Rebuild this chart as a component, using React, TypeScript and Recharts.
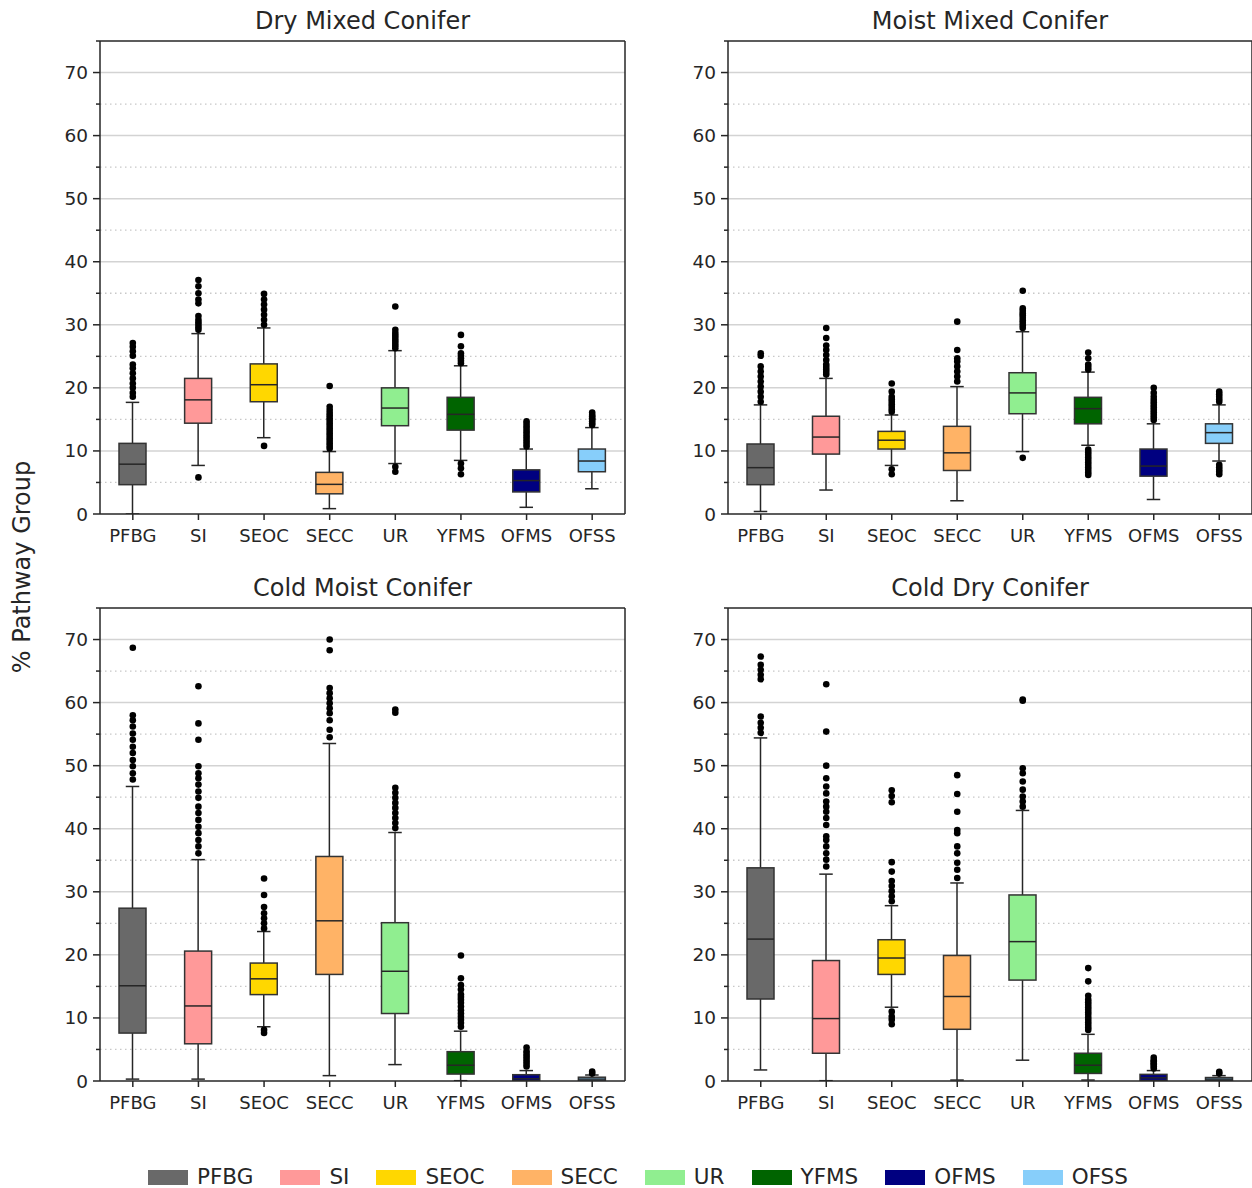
import { ComposedChart, Bar, Scatter, XAxis, YAxis, CartesianGrid } from "recharts";

const CATS = ["PFBG", "SI", "SEOC", "SECC", "UR", "YFMS", "OFMS", "OFSS"];
const COLORS = ["#696969", "#ff9999", "#ffd700", "#ffb366", "#90ee90", "#006400", "#000080", "#87cefa"];

const Y_TICKS = [0, 5, 10, 15, 20, 25, 30, 35, 40, 45, 50, 55, 60, 65, 70, 75];
const MAJOR_GRID = [10, 20, 30, 40, 50, 60, 70];
const MINOR_GRID = [5, 15, 25, 35, 45, 55, 65];

// Dry Mixed Conifer
const dryLow = [0, 7.7, 12.1, 0.85, 8.0, 8.5, 1.06, 4.0];
const dryQ1 = [4.65, 14.4, 17.8, 3.2, 14.0, 13.3, 3.5, 6.7];
const dryMed = [7.9, 18.1, 20.5, 4.7, 16.8, 15.8, 5.3, 8.4];
const dryQ3 = [11.2, 21.5, 23.8, 6.6, 20.0, 18.5, 7.0, 10.3];
const dryHigh = [17.7, 28.6, 29.5, 9.9, 25.9, 23.5, 10.3, 13.7];
const dryOut = [
  [18.6, 19.2, 20, 20.7, 21.5, 22.3, 23.1, 23.7, 25.1, 25.8, 26.5, 27.1],
  [5.8, 29.2, 29.6, 30, 30.4, 30.8, 31.4, 33.4, 34, 35, 36.1, 37.1],
  [10.8, 30, 30.8, 31.6, 32.4, 33.2, 34, 34.9],
  [10.4, 10.8, 11.2, 11.6, 12, 12.4, 12.8, 13.2, 13.6, 14, 14.4, 14.8, 15.2, 15.6, 16, 16.5, 17, 20.3],
  [6.7, 7.5, 26.3, 26.7, 27.1, 27.5, 27.9, 28.3, 28.7, 29.2, 32.9],
  [6.3, 7.25, 8.0, 23.9, 24.3, 24.7, 25.1, 25.5, 26.6, 28.4],
  [10.7, 11.1, 11.5, 11.9, 12.3, 12.7, 13.1, 13.5, 13.9, 14.3, 14.7],
  [14.1, 14.4, 14.7, 15.0, 15.2, 15.5, 15.7, 16.1],
];

// Moist Mixed Conifer
const moistLow = [0.4, 3.8, 7.7, 2.1, 9.9, 10.9, 2.3, 8.4];
const moistQ1 = [4.65, 9.5, 10.3, 6.9, 15.9, 14.3, 6.0, 11.2];
const moistMed = [7.35, 12.2, 11.7, 9.7, 19.2, 16.7, 7.6, 12.9];
const moistQ3 = [11.1, 15.5, 13.1, 13.9, 22.4, 18.5, 10.3, 14.3];
const moistHigh = [17.3, 21.5, 15.7, 20.2, 28.9, 22.5, 14.3, 17.3];
const moistOut = [
  [17.8, 18.6, 19.4, 20.2, 21, 21.8, 22.6, 23.4, 25.1, 25.5],
  [22.1, 22.5, 22.9, 23.3, 23.7, 24.4, 25.2, 26, 26.7, 27.9, 29.5],
  [6.3, 7.1, 16.2, 16.6, 17, 17.4, 17.8, 18.2, 18.6, 19.4, 20.7],
  [21, 21.8, 22.6, 23.4, 24.2, 24.7, 26, 30.5],
  [8.9, 29.5, 29.9, 30.3, 30.7, 31.1, 31.5, 31.8, 32.2, 32.6, 35.4],
  [6.2, 6.6, 7.0, 7.4, 7.8, 8.2, 8.6, 9.0, 9.4, 9.8, 10.2, 22.9, 23.3, 23.7, 24.7, 25.6],
  [14.9, 15.3, 15.7, 16.1, 16.5, 16.9, 17.3, 17.7, 18.1, 18.6, 19.2, 20.0],
  [6.3, 6.7, 7.0, 7.4, 7.8, 17.8, 18.2, 18.6, 19.0, 19.4],
];

// Cold Moist Conifer
const cmLow = [0.3, 0.3, 8.6, 0.85, 2.6, 0.05, 0, 0];
const cmQ1 = [7.6, 5.9, 13.7, 16.9, 10.7, 1.1, 0.05, 0.02];
const cmMed = [15.1, 11.9, 16.2, 25.4, 17.4, 2.5, 0.35, 0.3];
const cmQ3 = [27.4, 20.6, 18.7, 35.6, 25.1, 4.65, 1.0, 0.6];
const cmHigh = [46.7, 35.1, 23.7, 53.5, 39.4, 7.9, 1.65, 0.95];
const cmOut = [
  [47.8, 48.8, 49.9, 50.9, 52, 53, 54.1, 55.1, 56.2, 57.2, 58, 68.7],
  [36.1, 37.2, 38.2, 39.3, 40.3, 41.4, 42.5, 43.5, 44.9, 45.9, 47, 48, 48.8, 49.9, 54.1, 56.7, 62.6],
  [7.6, 8.1, 24.2, 25, 25.8, 26.6, 27.6, 29.5, 32.1],
  [54.5, 55.7, 57.2, 58.3, 59.1, 59.9, 60.7, 61.5, 62.3, 68.3, 70],
  [40.1, 40.9, 41.7, 42.5, 43.3, 44.1, 44.9, 45.7, 46.5, 58.4, 58.9],
  [8.6, 9.2, 9.7, 10.2, 10.7, 11.2, 11.8, 12.4, 12.9, 13.3, 13.7, 14.5, 15.2, 16.3, 19.9],
  [2.3, 2.7, 3.1, 3.5, 3.9, 4.3, 4.7, 5.3],
  [1.2, 1.5],
];

// Cold Dry Conifer
const cdLow = [1.75, 0.05, 11.7, 0.15, 3.3, 0.15, 0.05, 0.05];
const cdQ1 = [13.0, 4.4, 16.9, 8.2, 16.0, 1.2, 0.08, 0.08];
const cdMed = [22.5, 9.9, 19.5, 13.4, 22.1, 2.5, 0.5, 0.3];
const cdQ3 = [33.8, 19.1, 22.4, 19.9, 29.5, 4.4, 1.05, 0.55];
const cdHigh = [54.4, 32.8, 27.8, 31.4, 42.9, 7.4, 1.65, 0.85];
const cdOut = [
  [55.2, 56, 56.8, 57.8, 63.7, 64.4, 65.2, 66, 67.3],
  [34, 35.1, 36.1, 37.2, 38.2, 38.8, 40.6, 41.7, 42.7, 43.5, 44.3, 45.6, 46.7, 48, 50, 55.4, 62.9],
  [9.0, 9.7, 10.2, 11, 28.5, 29.3, 30.1, 30.9, 31.7, 33.2, 34.7, 44.2, 45.2, 46.1],
  [32.2, 33.5, 34.6, 36.1, 37.2, 39.3, 39.8, 42.7, 45.5, 48.5],
  [43.5, 44.3, 45.1, 46.2, 47.5, 48.8, 49.6, 60.3, 60.5],
  [8.1, 8.5, 8.9, 9.3, 9.7, 10.1, 10.5, 10.9, 11.3, 11.7, 12.1, 12.5, 12.9, 13.5, 15.8, 17.9],
  [2.0, 2.3, 2.6, 2.8, 3.1, 3.3, 3.7],
  [1.2, 1.45],
];

const INK = "#262626";

function buildBoxes(low: number[], q1: number[], med: number[], q3: number[], high: number[]) {
  return CATS.map((name, i) => ({
    name,
    low: low[i],
    q1: q1[i],
    med: med[i],
    q3: q3[i],
    high: high[i],
    range: [low[i], high[i]],
  }));
}

function buildOutliers(out: number[][]) {
  return out.flatMap((vals, i) => vals.map((v) => ({ name: CATS[i], v })));
}

const BoxShape = (props: any) => {
  const { x, y, width, height, payload, index } = props;
  const { low, q1, med, q3, high } = payload;
  const top = Math.min(y, y + height);
  const h = Math.abs(height);
  const py = (v: number) => (high === low ? top : top + (h * (high - v)) / (high - low));
  const cx = x + width / 2;
  const cap = width * 0.5;
  const line = { stroke: INK, strokeWidth: 1.5 };
  return (
    <g>
      <line x1={cx} x2={cx} y1={py(high)} y2={py(q3)} {...line} />
      <line x1={cx} x2={cx} y1={py(q1)} y2={py(low)} {...line} />
      <line x1={cx - cap / 2} x2={cx + cap / 2} y1={py(high)} y2={py(high)} {...line} />
      <line x1={cx - cap / 2} x2={cx + cap / 2} y1={py(low)} y2={py(low)} {...line} />
      <rect x={x} y={py(q3)} width={width} height={Math.max(py(q1) - py(q3), 0)} fill={COLORS[index]} stroke="#333" strokeWidth={1.5} />
      <line x1={x} x2={x + width} y1={py(med)} y2={py(med)} {...line} />
    </g>
  );
};

const OutlierDot = (props: any) => <circle cx={props.cx} cy={props.cy} r={3.3} fill="#000" />;

const YTick = (props: any) => {
  const { x, y, payload } = props;
  const v = payload.value;
  const major = v % 10 === 0;
  return (
    <g>
      <line x1={x - (major ? 7 : 4)} x2={x} y1={y} y2={y} stroke={INK} strokeWidth={1.5} />
      {major && (
        <text x={x - 12} y={y} textAnchor="end" dominantBaseline="central" fontSize={18.5} fill={INK}>
          {v}
        </text>
      )}
    </g>
  );
};

const PLOT_H = 473;

function Panel({ left, top, width, title, boxes, outliers }: any) {
  const axisLine = { stroke: INK, strokeWidth: 1.5 };
  return (
    <>
      <div
        style={{
          position: "absolute",
          left,
          top: top - 35,
          width,
          textAlign: "center",
          fontSize: 24,
          lineHeight: "30px",
          color: INK,
        }}
      >
        {title}
      </div>
      <div style={{ position: "absolute", left: left - 70, top: top - 3 }}>
        <ComposedChart width={70 + width + 1} height={PLOT_H + 48} data={boxes} margin={{ top: 2, right: 0, bottom: 0, left: 0 }}>
          <CartesianGrid vertical={false} horizontalValues={MAJOR_GRID} stroke="#d3d3d3" strokeWidth={1.5} />
          <CartesianGrid vertical={false} horizontalValues={MINOR_GRID} stroke="#c8c8c8" strokeWidth={1.3} strokeDasharray="1.5 3.5" />
          <XAxis
            dataKey="name"
            allowDuplicatedCategory={false}
            interval={0}
            height={45}
            tickSize={6}
            tickMargin={9}
            tick={{ fontSize: 18, fill: INK }}
            tickLine={axisLine}
            axisLine={axisLine}
          />
          <XAxis xAxisId="top" orientation="top" dataKey="name" allowDuplicatedCategory={false} height={1} tick={false} tickLine={false} axisLine={axisLine} />
          <YAxis
            type="number"
            domain={[0, 75]}
            ticks={Y_TICKS}
            interval={0}
            allowDataOverflow
            width={70}
            tickSize={0}
            tickMargin={0}
            tickLine={false}
            tick={<YTick />}
            axisLine={axisLine}
          />
          <YAxis yAxisId="right" orientation="right" type="number" domain={[0, 75]} width={1} tick={false} tickLine={false} axisLine={axisLine} />
          <Bar dataKey="range" barSize={27} shape={BoxShape} isAnimationActive={false} />
          <Scatter data={outliers} dataKey="v" shape={OutlierDot} isAnimationActive={false} />
        </ComposedChart>
      </div>
    </>
  );
}

const PANELS = [
  { title: "Dry Mixed Conifer", left: 100, top: 41, width: 525, boxes: buildBoxes(dryLow, dryQ1, dryMed, dryQ3, dryHigh), outliers: buildOutliers(dryOut) },
  { title: "Moist Mixed Conifer", left: 728, top: 41, width: 524, boxes: buildBoxes(moistLow, moistQ1, moistMed, moistQ3, moistHigh), outliers: buildOutliers(moistOut) },
  { title: "Cold Moist Conifer", left: 100, top: 608, width: 525, boxes: buildBoxes(cmLow, cmQ1, cmMed, cmQ3, cmHigh), outliers: buildOutliers(cmOut) },
  { title: "Cold Dry Conifer", left: 728, top: 608, width: 524, boxes: buildBoxes(cdLow, cdQ1, cdMed, cdQ3, cdHigh), outliers: buildOutliers(cdOut) },
];

export default function App() {
  return (
    <div
      style={{
        position: "relative",
        width: 1252,
        height: 1188,
        overflow: "hidden",
        background: "#fff",
        fontFamily: "'DejaVu Sans', sans-serif",
        color: INK,
      }}
    >
      <style>{`body{margin:0}`}</style>
      {PANELS.map((p) => (
        <Panel key={p.title} {...p} />
      ))}
      <div
        style={{
          position: "absolute",
          left: 22,
          top: 567,
          transform: "translate(-50%, -50%) rotate(-90deg)",
          fontSize: 24,
          whiteSpace: "nowrap",
        }}
      >
        % Pathway Group
      </div>
      <div
        style={{
          position: "absolute",
          left: 148,
          top: 1163,
          display: "flex",
          alignItems: "center",
          gap: 27,
          fontSize: 21.5,
          lineHeight: "28px",
        }}
      >
        {CATS.map((c, i) => (
          <div key={c} style={{ display: "flex", alignItems: "center", gap: 9 }}>
            <span style={{ display: "inline-block", width: 40, height: 15, background: COLORS[i] }} />
            <span>{c}</span>
          </div>
        ))}
      </div>
    </div>
  );
}
